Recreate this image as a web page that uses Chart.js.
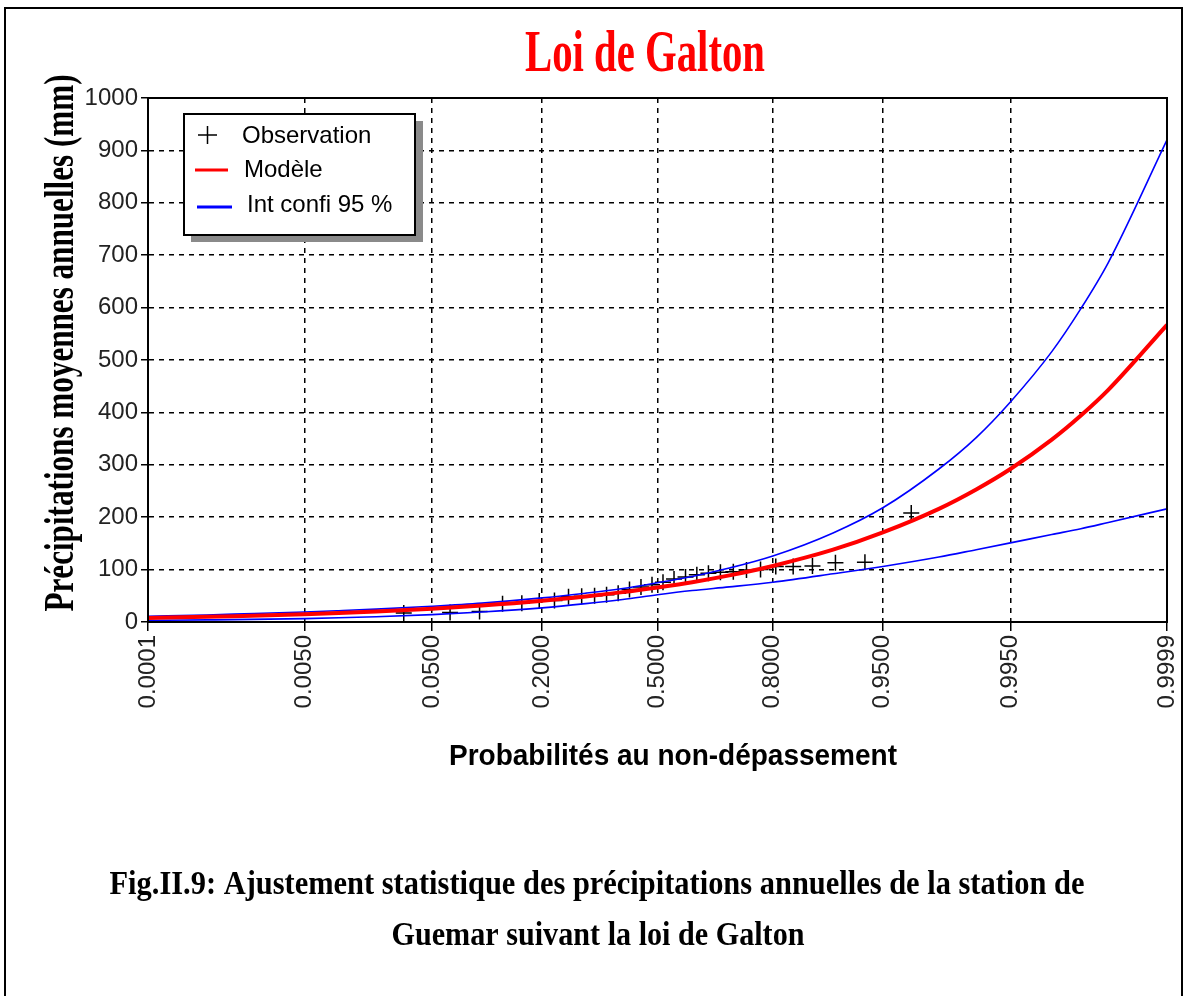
<!DOCTYPE html>
<html lang="fr">
<head>
<meta charset="UTF-8">
<title>Loi de Galton</title>
<script src="https://cdn.jsdelivr.net/npm/chart.js"></script>
<style>
  html, body { margin: 0; padding: 0; background: #fff; }
  #wrap { width: 1187px; height: 996px; }
</style>
</head>
<body>
<div id="wrap"><canvas id="galton" width="1187" height="996"></canvas></div>
<script>
// x axis: probabilities au non-dépassement (normal probability paper)
const tickProbs = [0.0001, 0.005, 0.05, 0.2, 0.5, 0.8, 0.95, 0.995, 0.9999];
const tickLabels = ['0.0001', '0.0050', '0.0500', '0.2000', '0.5000', '0.8000', '0.9500', '0.9950', '0.9999'];

// observations (plotting positions, mm)
const obsProb = [0.032, 0.065, 0.097, 0.129, 0.161, 0.194, 0.226, 0.258, 0.290, 0.323,
                 0.355, 0.387, 0.419, 0.452, 0.484, 0.516, 0.548, 0.581, 0.613, 0.645,
                 0.677, 0.710, 0.742, 0.774, 0.806, 0.839, 0.871, 0.903, 0.935, 0.968];
const obsValue = [17, 18, 20, 35, 36, 40, 41, 48, 49, 50,
                  52, 55, 62, 67, 71, 76, 82, 86, 90, 93,
                  95, 96, 99, 100, 106, 106, 107, 113, 114, 208];

// fitted model and 95 % band
const curveProb = [0.0001, 0.0005, 0.001, 0.005, 0.01, 0.02, 0.05, 0.1, 0.2, 0.3, 0.4, 0.5,
                   0.6, 0.7, 0.8, 0.9, 0.95, 0.98, 0.99, 0.995, 0.998, 0.999, 0.9995, 0.9999];
const modelValue = [7.7, 9.9, 11.1, 14.9, 17.2, 20.1, 25.5, 31.5, 40.6, 48.8, 57, 66,
                    76, 89, 107, 138, 171, 216, 253, 292, 348, 394, 443, 567];
const upperValue = [11, 13.5, 15, 19, 21.5, 24.5, 30, 36, 46, 55, 64, 75,
                    87, 103, 126, 170, 218, 292, 352, 420, 516, 598, 686, 920];
const lowerValue = [3, 4, 4.5, 6.5, 8, 10, 14, 19, 27, 35, 43, 52,
                    60, 67, 76, 92, 106, 124, 138, 151, 167, 178, 190, 216];

// inverse of the standard normal cdf (Acklam)
function probit(p) {
  const a = [-3.969683028665376e+01, 2.209460984245205e+02, -2.759285104469687e+02, 1.383577518672690e+02, -3.066479806614716e+01, 2.506628277459239e+00];
  const b = [-5.447609879822406e+01, 1.615858368580409e+02, -1.556989798598866e+02, 6.680131188771972e+01, -1.328068155288572e+01];
  const c = [-7.784894002430293e-03, -3.223964580411365e-01, -2.400758277161838e+00, -2.549732539343734e+00, 4.374664141464968e+00, 2.938163982698783e+00];
  const d = [7.784695709041462e-03, 3.224671290700398e-01, 2.445134137142996e+00, 3.754408661907416e+00];
  const pl = 0.02425;
  let q, r;
  if (p < pl) {
    q = Math.sqrt(-2 * Math.log(p));
    return (((((c[0]*q+c[1])*q+c[2])*q+c[3])*q+c[4])*q+c[5]) / ((((d[0]*q+d[1])*q+d[2])*q+d[3])*q+1);
  }
  if (p > 1 - pl) {
    q = Math.sqrt(-2 * Math.log(1 - p));
    return -(((((c[0]*q+c[1])*q+c[2])*q+c[3])*q+c[4])*q+c[5]) / ((((d[0]*q+d[1])*q+d[2])*q+d[3])*q+1);
  }
  q = p - 0.5; r = q * q;
  return (((((a[0]*r+a[1])*r+a[2])*r+a[3])*r+a[4])*r+a[5])*q / (((((b[0]*r+b[1])*r+b[2])*r+b[3])*r+b[4])*r+1);
}

const toPoints = (probs, vals) => probs.map((p, i) => ({ x: probit(p), y: vals[i] }));

// text squeezed horizontally to a given width (condensed look of the original)
function fitText(ctx, text, x, y, font, width, color, angle) {
  ctx.save();
  ctx.font = font;
  ctx.fillStyle = color;
  ctx.textAlign = 'center';
  ctx.textBaseline = 'alphabetic';
  ctx.translate(x, y);
  if (angle) ctx.rotate(angle);
  const w = ctx.measureText(text).width;
  ctx.scale(width / w, 1);
  ctx.fillText(text, 0, 0);
  ctx.restore();
}

const decor = {
  id: 'decor',
  beforeDraw(chart) {
    const ctx = chart.ctx;
    ctx.save();
    ctx.fillStyle = '#fff';
    ctx.fillRect(0, 0, chart.width, chart.height);
    ctx.strokeStyle = '#000';
    ctx.lineWidth = 2;
    ctx.strokeRect(5, 8, 1177, 1010);
    ctx.restore();
  },
  afterDatasetsDraw(chart) {
    const ctx = chart.ctx;
    const a = chart.chartArea;
    ctx.save();
    // frame of the plot
    ctx.strokeStyle = '#000';
    ctx.lineWidth = 2;
    ctx.strokeRect(a.left, a.top, a.right - a.left, a.bottom - a.top);

    // legend box with shadow
    ctx.fillStyle = '#8a8a8a';
    ctx.fillRect(191, 121, 232, 121);
    ctx.fillStyle = '#fff';
    ctx.fillRect(184, 114, 231, 121);
    ctx.lineWidth = 2;
    ctx.strokeRect(184, 114, 231, 121);

    const ds = chart.data.datasets;
    ctx.strokeStyle = '#000';
    ctx.lineWidth = 1.5;
    ctx.beginPath();
    ctx.moveTo(198, 135); ctx.lineTo(217, 135);
    ctx.moveTo(207.5, 126); ctx.lineTo(207.5, 144);
    ctx.stroke();
    ctx.strokeStyle = '#ff0000';
    ctx.lineWidth = 3;
    ctx.beginPath(); ctx.moveTo(195, 170); ctx.lineTo(228, 170); ctx.stroke();
    ctx.strokeStyle = '#0000ff';
    ctx.beginPath(); ctx.moveTo(197, 207); ctx.lineTo(232, 207); ctx.stroke();

    ctx.fillStyle = '#000';
    ctx.font = '24px "Liberation Sans", Arial, sans-serif';
    ctx.textBaseline = 'middle';
    ctx.fillText(ds[0].label, 242, 136);
    ctx.fillText(ds[1].label, 244, 170);
    ctx.fillText(ds[2].label, 247, 205);
    ctx.restore();
  },
  afterDraw(chart) {
    const ctx = chart.ctx;
    fitText(ctx, 'Loi de Galton', 645, 71, 'bold 60px "Liberation Serif", serif', 240, '#ff0000');
    fitText(ctx, 'Précipitations moyennes annuelles (mm)', 73, 343,
            'bold 42px "Liberation Serif", serif', 537, '#000', -Math.PI / 2);
    fitText(ctx, 'Probabilités au non-dépassement', 673, 765,
            'bold 30px "Liberation Sans", Arial, sans-serif', 448, '#000');
    fitText(ctx, 'Fig.II.9: Ajustement statistique des précipitations annuelles de la station de', 597, 894,
            'bold 34px "Liberation Serif", serif', 975, '#000');
    fitText(ctx, 'Guemar suivant la loi de Galton', 598, 945,
            'bold 34px "Liberation Serif", serif', 413, '#000');
  }
};

new Chart(document.getElementById('galton'), {
  type: 'scatter',
  data: {
    datasets: [
      {
        label: 'Observation',
        data: toPoints(obsProb, obsValue),
        showLine: false,
        pointStyle: 'cross',
        pointRadius: 8,
        pointBorderWidth: 1.5,
        borderColor: '#000',
        backgroundColor: '#000',
        order: 2
      },
      {
        label: 'Modèle',
        data: toPoints(curveProb, modelValue),
        showLine: true,
        borderColor: '#ff0000',
        borderWidth: 4,
        pointRadius: 0,
        cubicInterpolationMode: 'monotone',
        order: 0
      },
      {
        label: 'Int confi 95 %',
        data: toPoints(curveProb, upperValue),
        showLine: true,
        borderColor: '#0000ff',
        borderWidth: 1.6,
        pointRadius: 0,
        cubicInterpolationMode: 'monotone',
        order: 1
      },
      {
        label: 'Int confi 95 % (inf)',
        data: toPoints(curveProb, lowerValue),
        showLine: true,
        borderColor: '#0000ff',
        borderWidth: 1.6,
        pointRadius: 0,
        cubicInterpolationMode: 'monotone',
        order: 1
      }
    ]
  },
  options: {
    responsive: false,
    animation: false,
    layout: { padding: { top: 98, right: 20, left: 0, bottom: 0 } },
    plugins: { legend: { display: false }, tooltip: { enabled: false } },
    scales: {
      x: {
        type: 'linear',
        min: probit(tickProbs[0]),
        max: probit(tickProbs[tickProbs.length - 1]),
        afterBuildTicks: s => { s.ticks = tickProbs.map(p => ({ value: probit(p) })); },
        afterFit: s => { s.height = 374; s.paddingLeft = 0; s.paddingRight = 0; },
        ticks: {
          autoSkip: false,
          minRotation: 90,
          maxRotation: 90,
          padding: 4,
          color: '#222',
          font: { family: '"Liberation Sans", Arial, sans-serif', size: 24 },
          callback: (v, i) => tickLabels[i]
        },
        grid: { color: '#000', lineWidth: 1.5, tickLength: 9, tickColor: '#000', tickWidth: 1.5 },
        border: { color: '#000', width: 2, dash: [5, 5] }
      },
      y: {
        min: 0,
        max: 1000,
        afterFit: s => { s.width = 148; },
        ticks: {
          stepSize: 50,
          padding: 3,
          color: '#222',
          font: { family: '"Liberation Sans", Arial, sans-serif', size: 24 },
          callback: v => (v % 100 === 0 ? v : '')
        },
        grid: {
          color: c => (c.tick && c.tick.value % 100 === 0 ? '#000' : 'rgba(0,0,0,0)'),
          lineWidth: 1.5,
          tickLength: 7,
          tickColor: '#000',
          tickWidth: 1.5
        },
        border: { color: '#000', width: 2, dash: [5, 5] }
      }
    }
  },
  plugins: [decor]
});
</script>
</body>
</html>
